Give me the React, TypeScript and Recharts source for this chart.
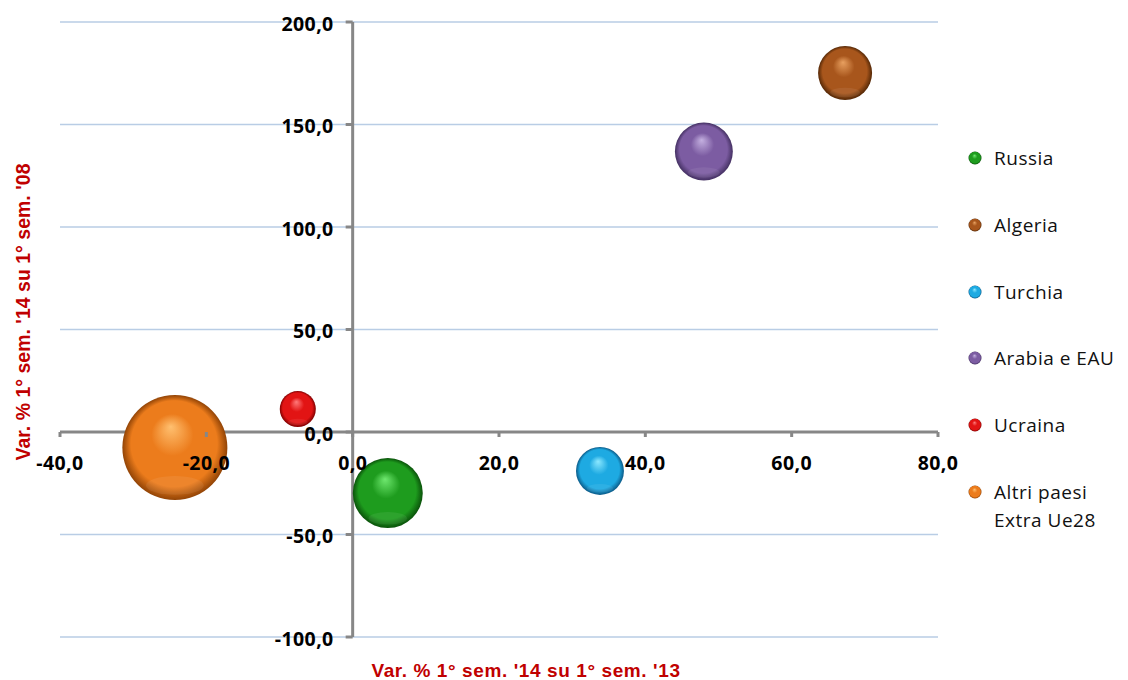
import { ScatterChart, Scatter, XAxis, YAxis, ZAxis, CartesianGrid, ReferenceLine } from 'recharts'

const countries = ['Russia', 'Algeria', 'Turchia', 'Arabia e EAU', 'Ucraina', 'Altri paesi Extra Ue28']
const varVs13 = [4.8, 67.3, 33.8, 48.0, -7.5, -24.3]
const varVs08 = [-29.8, 175.1, -19.0, 136.8, 11.2, -7.6]
const bubbleSize = [1225, 730, 575, 840, 325, 2760]

// light / base / dark per series
const colors = [
  ['#6fe86f', '#1e9c1e', '#0a520a'],
  ['#e8a060', '#a8561c', '#552806'],
  ['#8ce8ff', '#1eaae2', '#0a5a88'],
  ['#c4b0e0', '#7c5ca2', '#443062'],
  ['#ff7a7a', '#e21414', '#800000'],
  ['#ffc070', '#ec7c1c', '#924406'],
]

const xTicks = [-40, -20, 0, 20, 40, 60, 80]
const yTicks = [-100, -50, 0, 50, 100, 150, 200]

const W = 1120
const H = 672
const M = { top: 14, right: 190, bottom: 42, left: 51 }
const plotW = W - M.left - M.right - 1
const plotH = H - M.top - M.bottom - 1
const zeroX = M.left + 1 + (plotW * (0 - xTicks[0])) / (xTicks[xTicks.length - 1] - xTicks[0])
const zeroY = M.top + (plotH * (yTicks[yTicks.length - 1] - 0)) / (yTicks[yTicks.length - 1] - yTicks[0])

const maxZ = Math.max(...bubbleSize)
const maxArea = Math.PI * 52.5 * 52.5

const fmt = (v: number) => v.toFixed(1).replace('.', ',')
const tickFont = '"Open Sans", "Noto Sans", sans-serif'
const axisGray = '#878787'

function Grad({ id, c }: { id: string; c: string[] }) {
  return (
    <radialGradient id={id} cx="50%" cy="50%" r="50%" fx="46%" fy="30%">
      <stop offset="0%" stopColor={c[0]} />
      <stop offset="40%" stopColor={c[1]} />
      <stop offset="82%" stopColor={c[1]} />
      <stop offset="100%" stopColor={c[2]} />
    </radialGradient>
  )
}

function Sphere(props: any) {
  const { cx, cy, width, size, idx } = props
  const r = width ? width / 2 : Math.sqrt(size / Math.PI)
  return (
    <g>
      <circle cx={cx} cy={cy} r={r} fill={`url(#sph${idx})`} />
      <ellipse cx={cx} cy={cy + r * 0.72} rx={r * 0.55} ry={r * 0.18} fill="#ffffff" opacity={0.07} />
    </g>
  )
}

function XTick(props: any) {
  const { x, payload } = props
  return (
    <g>
      <line x1={x} x2={x} y1={zeroY} y2={zeroY + 5} stroke={axisGray} strokeWidth={3} />
      <text x={x} y={zeroY + 30} textAnchor="middle" dominantBaseline="central" fontFamily={tickFont} fontWeight={700} fontSize={19.5} letterSpacing={0.4} fill="#000">
        {fmt(payload.value)}
      </text>
    </g>
  )
}

function YTick(props: any) {
  const { y, payload } = props
  return (
    <g>
      <line x1={zeroX - 7} x2={zeroX} y1={y} y2={y} stroke={axisGray} strokeWidth={3} />
      <text x={zeroX - 19} y={y + 1} textAnchor="end" dominantBaseline="central" fontFamily={tickFont} fontWeight={700} fontSize={19.5} letterSpacing={0.4} fill="#000">
        {fmt(payload.value)}
      </text>
    </g>
  )
}

export default function App() {
  return (
    <div style={{ position: 'relative', width: W, height: H }}>
      <ScatterChart width={W} height={H} margin={M}>
        <defs>
          {colors.map((c, i) => (
            <Grad key={i} id={`sph${i}`} c={c} />
          ))}
        </defs>
        <CartesianGrid vertical={false} stroke="#b9cde5" strokeWidth={1.5} />
        <ReferenceLine x={0} stroke={axisGray} strokeWidth={3} />
        <ReferenceLine y={0} stroke={axisGray} strokeWidth={3} />
        <ZAxis type="number" dataKey="z" domain={[0, maxZ]} range={[0, maxArea]} />
        {countries.map((name, i) => (
          <Scatter
            key={name}
            name={name}
            data={[{ x: varVs13[i], y: varVs08[i], z: bubbleSize[i] }]}
            shape={(p: any) => <Sphere {...p} idx={i} />}
            isAnimationActive={false}
          />
        ))}
        <XAxis
          type="number"
          dataKey="x"
          domain={[xTicks[0], xTicks[xTicks.length - 1]]}
          ticks={xTicks}
          height={1}
          axisLine={false}
          tickLine={false}
          interval={0}
          tick={(p: any) => <XTick {...p} />}
        />
        <YAxis
          type="number"
          dataKey="y"
          domain={[yTicks[0], yTicks[yTicks.length - 1]]}
          ticks={yTicks}
          width={1}
          axisLine={false}
          tickLine={false}
          interval={0}
          tick={(p: any) => <YTick {...p} />}
        />
      </ScatterChart>
      <svg width={W} height={H} style={{ position: 'absolute', left: 0, top: 0, pointerEvents: 'none' }}>
        <text x={518} y={662} textAnchor="middle" dominantBaseline="central" fontFamily='"Liberation Sans", Arial, sans-serif' fontWeight={700} fontSize={19} letterSpacing={0.6} fill="#c00000">
          Var. % 1° sem. '14 su 1° sem. '13
        </text>
        <text transform="translate(15,304) rotate(-90)" textAnchor="middle" dominantBaseline="central" fontFamily='"Liberation Sans", Arial, sans-serif' fontWeight={700} fontSize={19.5} fill="#c00000">
          Var. % 1° sem. '14 su 1° sem. '08
        </text>
      </svg>
      <div style={{ position: 'absolute', left: 959, top: 136, width: 150, fontFamily: '"Open Sans", sans-serif', fontSize: 19, letterSpacing: 0.5, color: '#111' }}>
        {countries.map((name, i) => (
          <div key={name} style={{ display: 'flex', alignItems: 'flex-start', height: 66.8, lineHeight: '28px' }}>
            <svg width={16} height={28} style={{ flex: 'none', marginRight: 11 }}>
              <defs>
                <Grad id={`leg${i}`} c={colors[i]} />
              </defs>
              <circle cx={8} cy={14} r={6.5} fill={`url(#leg${i})`} />
            </svg>
            <span style={{ width: 125 }}>{name}</span>
          </div>
        ))}
      </div>
    </div>
  )
}
